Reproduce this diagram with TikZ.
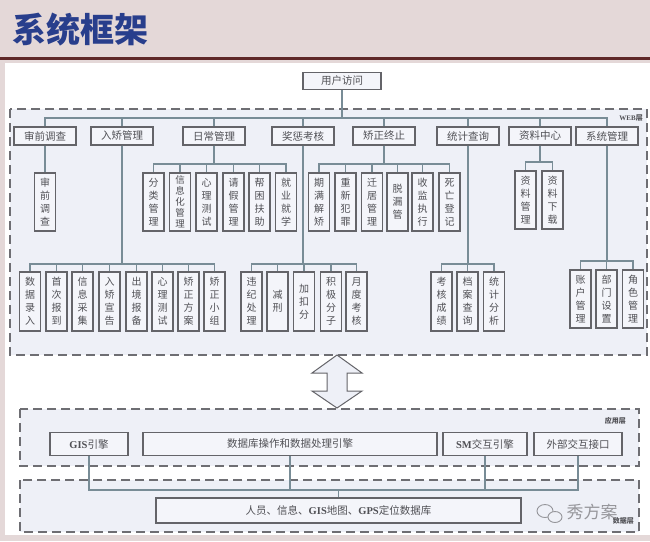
\documentclass[tikz,border=0pt]{standalone}
\usepackage{fontspec}
\setmainfont{Liberation Serif}
\newfontfamily\cjk{Noto Sans CJK SC}
\definecolor{pinkbg}{RGB}{228,216,216}
\definecolor{titleblue}{RGB}{40,62,140}
\definecolor{titleline}{RGB}{95,40,40}
\definecolor{boxc}{RGB}{100,100,105}
\definecolor{boxf}{RGB}{244,245,250}
\definecolor{txt}{RGB}{80,80,85}
\definecolor{linec}{RGB}{120,140,150}
\definecolor{dashc}{RGB}{110,110,115}
\definecolor{layf}{RGB}{238,240,247}
\definecolor{wm}{RGB}{150,150,155}
\begin{document}
\begin{tikzpicture}[x=1pt,y=-1pt,
  box/.style={draw=boxc, fill=boxf, line width=1.1pt, text=txt, font=\cjk\fontsize{10.5}{12}\selectfont, inner sep=0pt, minimum width=62pt, minimum height=18pt},
  vbox/.style={draw=boxc, fill=boxf, line width=1.1pt, text=txt, font=\cjk\fontsize{10}{13}\selectfont, inner sep=0pt, minimum width=21pt, minimum height=58pt, align=center},
  conn/.style={draw=linec, line width=1.1pt},
  layer/.style={draw=dashc, fill=layf, line width=1.2pt, dash pattern=on 9pt off 5pt},
  lbl/.style={text=txt, inner sep=0pt, font=\cjk\bfseries\fontsize{7}{7}\selectfont}
]
\useasboundingbox (0,0) rectangle (650,541);
\fill[pinkbg] (0,0) rectangle (650,541);
\fill[white] (5,63) rectangle (650,535);
\draw[titleline, line width=3pt] (0,58.5) -- (650,58.5);
\node[anchor=west, inner sep=0pt, text=titleblue, font=\cjk\bfseries\fontsize{34}{34}\selectfont] (title) at (12,30) {系统框架};

% layers
\draw[layer] (10,109) rectangle (647,355);
\draw[layer] (20,409) rectangle (639,466);
\draw[layer] (20,480) rectangle (639,532);
\node[lbl, anchor=east] (webl) at (643,118) {{\rmfamily WEB}层};
\node[lbl, anchor=east] (appl) at (626,421) {应用层};
\node[lbl, anchor=east] (datal) at (634,521) {数据层};

% user access
\node[box, minimum width=78pt, minimum height=17pt] (u) at (342,81) {用户访问};

% top level
\node[box] (a1) at (45,136) {审前调查};
\node[box] (a2) at (122,136) {入矫管理};
\node[box] (a3) at (214,136) {日常管理};
\node[box] (a4) at (303,136) {奖惩考核};
\node[box] (a5) at (384,136) {矫正终止};
\node[box] (a6) at (468,136) {统计查询};
\node[box] (a7) at (540,136) {资料中心};
\node[box] (a8) at (607,136) {系统管理};

% second row
\node[vbox] (b0) at (45,202) {审\\前\\调\\查};
\node[vbox] (c1) at (153.5,202) {分\\类\\管\\理};
\node[vbox, font=\cjk\fontsize{9.5}{11}\selectfont] (c2) at (180,202) {信\\息\\化\\管\\理};
\node[vbox] (c3) at (206.5,202) {心\\理\\测\\试};
\node[vbox] (c4) at (233.5,202) {请\\假\\管\\理};
\node[vbox] (c5) at (259.5,202) {帮\\困\\扶\\助};
\node[vbox] (c6) at (286,202) {就\\业\\就\\学};
\node[vbox] (d1) at (319,202) {期\\满\\解\\矫};
\node[vbox] (d2) at (345.5,202) {重\\新\\犯\\罪};
\node[vbox] (d3) at (372,202) {迁\\居\\管\\理};
\node[vbox] (d4) at (397.5,202) {脱\\漏\\管};
\node[vbox] (d5) at (422.5,202) {收\\监\\执\\行};
\node[vbox] (d6) at (449.5,202) {死\\亡\\登\\记};
\node[vbox] (e1) at (525.5,200) {资\\料\\管\\理};
\node[vbox] (e2) at (552.5,200) {资\\料\\下\\载};

% third row
\node[vbox, minimum height=59pt] (f1) at (30,301.5) {数\\据\\录\\入};
\node[vbox, minimum height=59pt] (f2) at (56.5,301.5) {首\\次\\报\\到};
\node[vbox, minimum height=59pt] (f3) at (82.5,301.5) {信\\息\\采\\集};
\node[vbox, minimum height=59pt] (f4) at (109.5,301.5) {入\\矫\\宣\\告};
\node[vbox, minimum height=59pt] (f5) at (136.5,301.5) {出\\境\\报\\备};
\node[vbox, minimum height=59pt] (f6) at (162.5,301.5) {心\\理\\测\\试};
\node[vbox, minimum height=59pt] (f7) at (188.5,301.5) {矫\\正\\方\\案};
\node[vbox, minimum height=59pt] (f8) at (214.5,301.5) {矫\\正\\小\\组};
\node[vbox, minimum height=59pt] (g1) at (251.5,301.5) {违\\纪\\处\\理};
\node[vbox, minimum height=59pt] (g2) at (277.5,301.5) {减\\刑};
\node[vbox, minimum height=59pt] (g3) at (304,301.5) {加\\扣\\分};
\node[vbox, minimum height=59pt] (g4) at (331,301.5) {积\\极\\分\\子};
\node[vbox, minimum height=59pt] (g5) at (356.5,301.5) {月\\度\\考\\核};
\node[vbox, minimum height=59pt] (h1) at (441.5,301.5) {考\\核\\成\\绩};
\node[vbox, minimum height=59pt] (h2) at (467.5,301.5) {档\\案\\查\\询};
\node[vbox, minimum height=59pt] (h3) at (494,301.5) {统\\计\\分\\析};
\node[vbox] (k1) at (580.5,299) {账\\户\\管\\理};
\node[vbox] (k2) at (606.5,299) {部\\门\\设\\置};
\node[vbox] (k3) at (633,299) {角\\色\\管\\理};

% connectors web
\foreach \t in {a1,a2,a3,a4,a5,a6,a7,a8}
  \draw[conn] (u.south) -- (u.south |- 0,118) -| (\t.north);
\draw[conn] (a1.south) -- (b0.north);
\foreach \c in {c1,c2,c3,c4,c5,c6}
  \draw[conn] (a3.south) -- (a3.south |- 0,164) -| (\c.north);
\foreach \c in {d1,d2,d3,d4,d5,d6}
  \draw[conn] (a5.south) -- (a5.south |- 0,164) -| (\c.north);
\foreach \c in {e1,e2}
  \draw[conn] (a7.south) -- (a7.south |- 0,162) -| (\c.north);
\foreach \c in {f1,f2,f3,f4,f5,f6,f7,f8}
  \draw[conn] (a2.south) -- (a2.south |- 0,264) -| (\c.north);
\foreach \c in {g1,g2,g3,g4,g5}
  \draw[conn] (a4.south) -- (a4.south |- 0,264) -| (\c.north);
\foreach \c in {h1,h2,h3}
  \draw[conn] (a6.south) -- (a6.south |- 0,264) -| (\c.north);
\foreach \c in {k1,k2,k3}
  \draw[conn] (a8.south) -- (a8.south |- 0,261) -| (\c.north);

% double arrow
\draw[draw=boxc, fill=layf, line width=1pt, line join=miter]
  (337,355) -- (362,373) -- (347,373) -- (347,391) -- (362,391) -- (337,408)
  -- (312,391) -- (327,391) -- (327,373) -- (312,373) -- cycle;

% app layer
\node[box, minimum width=78pt, minimum height=23pt] (p1) at (89,444) {{\rmfamily\bfseries GIS}引擎};
\node[box, minimum width=294pt, minimum height=23pt] (p2) at (290,444) {数据库操作和数据处理引擎};
\node[box, minimum width=84pt, minimum height=23pt] (p3) at (485,444) {{\rmfamily\bfseries SM}交互引擎};
\node[box, minimum width=88pt, minimum height=23pt] (p4) at (578,444) {外部交互接口};

% data layer
\node[box, minimum width=365pt, minimum height=25pt] (q) at (338.5,510.5) {人员、信息、{\rmfamily\bfseries GIS}地图、{\rmfamily\bfseries GPS}定位数据库};
\foreach \t in {p1,p2,p3,p4}
  \draw[conn] (\t.south) -- (\t.south |- 0,490) -| (q.north);

% watermark
\draw[wm, line width=0.9pt] (545,511) ellipse (8pt and 6.5pt);
\draw[wm, line width=0.9pt, fill=layf] (555,517) ellipse (7pt and 5.5pt);
\node[text=wm, inner sep=0pt, font=\cjk\fontsize{17}{17}\selectfont] (wmt) at (592,512) {秀方案};
\end{tikzpicture}
\end{document}
